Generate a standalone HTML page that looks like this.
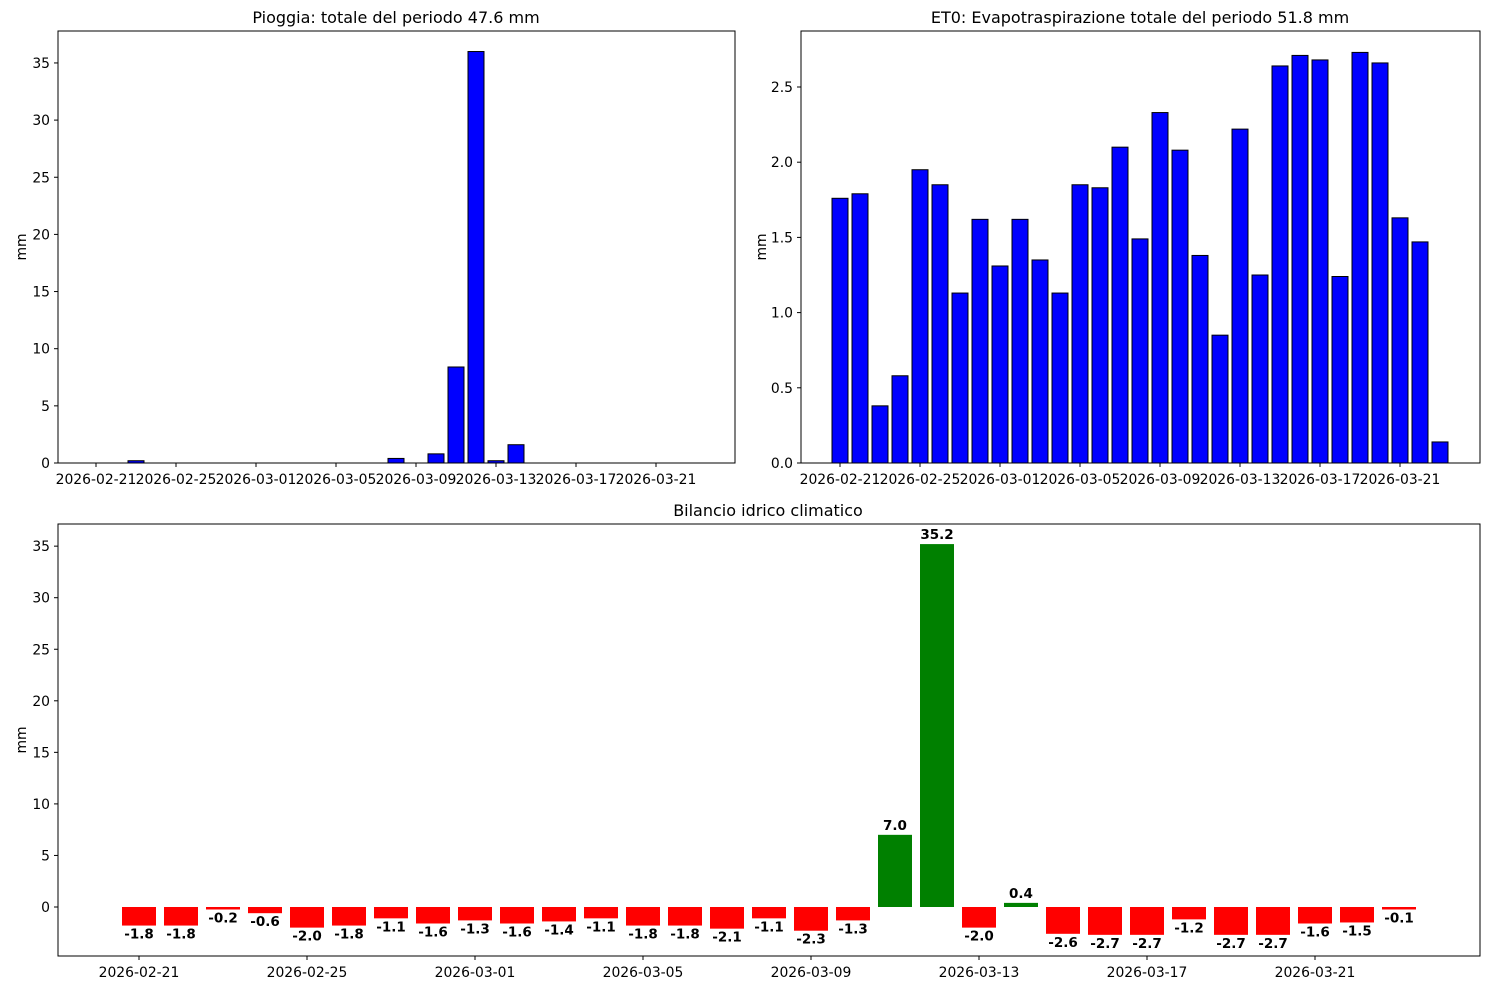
<!DOCTYPE html>
<html><head><meta charset="utf-8"><style>
body{margin:0;background:#fff}
svg text{font-family:"DejaVu Sans","Liberation Sans",sans-serif;fill:#000}
</style></head><body>
<svg id="s" width="1489" height="989" xmlns="http://www.w3.org/2000/svg"></svg>
<script>
const s=document.getElementById('s');let h='';
const dates=[];for(let i=0;i<31;i++){let d=21+i;dates.push(d<=28?'2026-02-'+(d<10?'0'+d:d):'2026-03-'+String(d-28).padStart(2,'0'));}
function txt(x,y,t,a,sz,extra){h+=`<text x="${x}" y="${y}" font-size="${sz||13.9}" text-anchor="${a||'middle'}" ${extra||''}>${t}</text>`;}
function axes(x0,y0,x1,y1){h+=`<rect x="${x0}" y="${y0}" width="${x1-x0}" height="${y1-y0}" fill="none" stroke="#000" stroke-width="1"/>`;}
let rain=new Array(32).fill(0);rain[3]=0.2;rain[16]=0.4;rain[18]=0.8;rain[19]=8.4;rain[20]=36;rain[21]=0.2;rain[22]=1.6;
for(let i=0;i<32;i++){let cx=76+20*i,hh=rain[i]*11.43;h+=`<rect x="${cx-8}" y="${463-hh}" width="16" height="${hh}" fill="#0000ff" stroke="#000" stroke-width="1"/>`;}
axes(58,31,735,463);
for(let v=0;v<=35;v+=5){let y=463-v*11.43;h+=`<line x1="54" x2="58" y1="${y}" y2="${y}" stroke="#000"/>`;txt(50,y+5,v,'end');}
for(let k=0;k<8;k++){let x=96+80*k;h+=`<line x1="${x}" x2="${x}" y1="463" y2="467" stroke="#000"/>`;txt(x,484,dates[4*k]);}
txt(22,247,'mm','middle',13.9,'transform="rotate(-90 22 247)" dominant-baseline="middle"');
txt(396,23,'Pioggia: totale del periodo 47.6 mm','middle',16);
const et=[1.76,1.79,0.38,0.58,1.95,1.85,1.13,1.62,1.31,1.62,1.35,1.13,1.85,1.83,2.10,1.49,2.33,2.08,1.38,0.85,2.22,1.25,2.64,2.71,2.68,1.24,2.73,2.66,1.63,1.47,0.14];
et.forEach((v,i)=>{let cx=840+20*i,hh=v*150.4;h+=`<rect x="${cx-8}" y="${463-hh}" width="16" height="${hh}" fill="#0000ff" stroke="#000" stroke-width="1"/>`;});
axes(801,31,1480,463);
for(let k=0;k<=5;k++){let v=k*0.5,y=463-v*150.4;h+=`<line x1="797" x2="801" y1="${y}" y2="${y}" stroke="#000"/>`;txt(793,y+5,v.toFixed(1),'end');}
for(let k=0;k<8;k++){let x=840+80*k;h+=`<line x1="${x}" x2="${x}" y1="463" y2="467" stroke="#000"/>`;txt(x,484,dates[4*k]);}
txt(762,247,'mm','middle',13.9,'transform="rotate(-90 762 247)" dominant-baseline="middle"');
txt(1140,23,'ET0: Evapotraspirazione totale del periodo 51.8 mm','middle',16);
const b=[-1.8,-1.8,-0.2,-0.6,-2.0,-1.8,-1.1,-1.6,-1.3,-1.6,-1.4,-1.1,-1.8,-1.8,-2.1,-1.1,-2.3,-1.3,7.0,35.2,-2.0,0.4,-2.6,-2.7,-2.7,-1.2,-2.7,-2.7,-1.6,-1.5,-0.1];
const sc=10.31,z=907,st=42;
b.forEach((v,i)=>{let cx=139+st*i,hh=Math.max(Math.abs(v)*sc,2.5);let c=v>=0?'#008000':'#ff0000';
h+=`<rect x="${cx-17}" y="${v>=0?z-hh:z}" width="34" height="${hh}" fill="${c}"/>`;
if(v>=0)txt(cx,z-hh-5,v.toFixed(1),'middle',13.5,'font-weight="bold"');else txt(cx,z+hh+13,v.toFixed(1),'middle',13.5,'font-weight="bold"');});
axes(58,524,1480,956);
for(let v=0;v<=35;v+=5){let y=z-v*sc;h+=`<line x1="54" x2="58" y1="${y}" y2="${y}" stroke="#000"/>`;txt(50,y+5,v,'end');}
for(let k=0;k<8;k++){let x=139+st*4*k;h+=`<line x1="${x}" x2="${x}" y1="956" y2="960" stroke="#000"/>`;txt(x,977,dates[4*k]);}
txt(22,740,'mm','middle',13.9,'transform="rotate(-90 22 740)" dominant-baseline="middle"');
txt(768,516,'Bilancio idrico climatico','middle',16);
s.innerHTML=h;
</script>
</body></html>
